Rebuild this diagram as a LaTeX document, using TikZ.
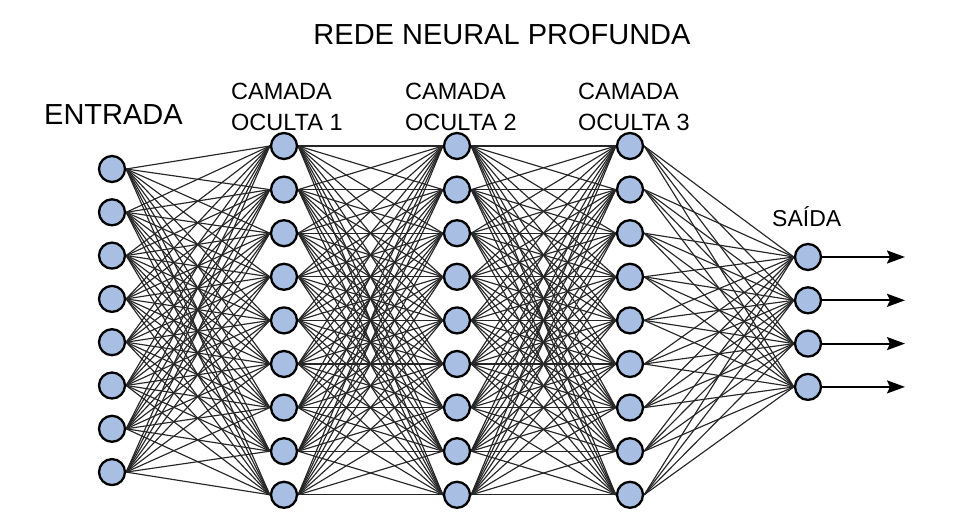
\documentclass[tikz,border=0pt]{standalone}
\usepackage{fontspec}
\setmainfont{Liberation Sans}
\usetikzlibrary{arrows.meta,backgrounds}
\definecolor{neuronfill}{RGB}{168,190,226}
\begin{document}
\begin{tikzpicture}[x=1pt, y=-1pt, line join=round, line cap=round, >={Stealth[length=18pt,width=13pt,inset=3pt]},
	neuron/.style={circle, draw=black, line width=2.3pt, fill=neuronfill, minimum size=26pt, inner sep=0pt},
	link/.style={line width=1.15pt, draw=black!85},
	label/.style={anchor=base west, align=left, inner sep=0pt}]
	\useasboundingbox (0,0) rectangle (972,516);
	\def\dy{43.6}
	% camadas
	\foreach \i in {1,...,8}
	\node[neuron] (E\i) at (112,{169+(\i-1)*43.3}) {};
	\foreach \L/\x in {A/284,B/457,C/630}
	\foreach \i in {1,...,9}
	\node[neuron] (\L\i) at (\x,{146+(\i-1)*\dy}) {};
	\foreach \i in {1,...,4}
	\node[neuron] (S\i) at (808,{257+(\i-1)*43.3}) {};
	% ligacoes
	\begin{scope}[on background layer]
		\foreach \i in {1,...,8}
		\foreach \j in {1,...,9}
		\draw[link] (E\i.east)--(A\j.west);
		\foreach \P/\Q in {A/B,B/C}
		\foreach \i in {1,...,9}
		\foreach \j in {1,...,9}
		\draw[link] (\P\i.east)--(\Q\j.west);
		\foreach \i in {1,...,9}
		\foreach \j in {1,...,4}
		\draw[link] (C\i.east)--(S\j.west);
	\end{scope}
	\foreach \i in {1,...,4}{
		\coordinate (O\i) at (905,{257+(\i-1)*43.3});
		\draw[->, line width=2pt] (S\i.east)--(O\i);
	}
	% textos
	\node[font=\fontsize{29}{32}\selectfont] (titulo) at (502,35) {REDE NEURAL PROFUNDA};
	\node[label, font=\fontsize{29}{32}\selectfont] (entrada) at (44,125) {ENTRADA};
	\foreach \n/\x/\k in {c1/231/1,c2/405/2,c3/578/3}
	\node[label, font=\fontsize{23.5}{31.5}\selectfont] (\n) at (\x,131) {CAMADA\\OCULTA \k};
	\node[label, font=\fontsize{23}{25}\selectfont] (saida) at (772,226) {SAÍDA};
\end{tikzpicture}
\end{document}
